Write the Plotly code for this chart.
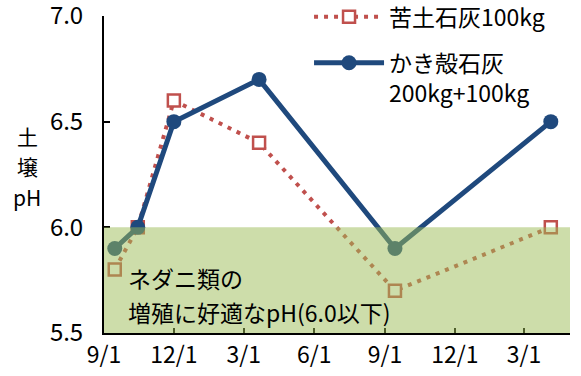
import plotly.graph_objects as go

# ---- data ----
dates = ["2019-09-15", "2019-10-15", "2019-12-01", "2020-03-21", "2020-09-14", "2021-04-05"]
kudo_ph = [5.8, 6.0, 6.6, 6.4, 5.7, 6.0]          # 苦土石灰100kg
kaki_ph = [5.9, 6.0, 6.5, 6.7, 5.9, 6.5]          # かき殻石灰200kg+100kg
tick_dates = ["2019-09-01", "2019-12-01", "2020-03-01", "2020-06-01",
              "2020-09-01", "2020-12-01", "2021-03-01"]
tick_labels = ["9/1", "12/1", "3/1", "6/1", "9/1", "12/1", "3/1"]
series_names = ["苦土石灰100kg", "かき殻石灰<br>200kg+100kg"]
ylabel_parts = ["土", "壌", "pH"]
band_low, band_high = 5.5, 6.0
band_lines = ["ネダニ類の", "増殖に好適なpH(6.0以下)"]

FONT = "Noto Sans CJK JP"
RED = "#c0504d"
BLUE = "#1f497d"

fig = go.Figure()
fig.add_trace(go.Scatter(
    x=dates, y=kudo_ph, name=series_names[0], mode="lines+markers",
    line=dict(color=RED, width=4, dash="4px,6px"),
    marker=dict(symbol="square", size=12, color="white",
                line=dict(color=RED, width=2.5)),
    legendgroup="a",
))
fig.add_trace(go.Scatter(
    x=dates, y=kaki_ph, name=series_names[1], mode="lines+markers",
    line=dict(color=BLUE, width=5),
    marker=dict(symbol="circle", size=15, color=BLUE),
    legendgroup="b",
))

# translucent band drawn above the lines
fig.add_shape(type="rect", xref="paper", yref="y", x0=0, x1=1,
              y0=band_low, y1=band_high, line=dict(width=0),
              fillcolor="rgba(155,187,85,0.5)", layer="above")

# band caption, two lines
for line_text, ypos in zip(band_lines, [5.761, 5.6]):
    fig.add_annotation(text=line_text, xref="paper", yref="y", x=0.048, y=ypos,
                       xanchor="left", yanchor="middle", align="left",
                       showarrow=False,
                       font=dict(family=FONT, size=23, color="black"))

# vertical stacked y-axis label
for part, ypos in zip(ylabel_parts, [0.621, 0.527, 0.43]):
    fig.add_annotation(text=part, xref="paper", yref="paper",
                       x=-0.165, y=ypos, xanchor="center", yanchor="middle",
                       showarrow=False,
                       font=dict(family=FONT, size=21, color="black"))

fig.update_layout(
    width=581, height=376,
    margin=dict(l=104, r=11, t=16, b=43, autoexpand=False),
    paper_bgcolor="white", plot_bgcolor="white",
    font=dict(family=FONT, size=20, color="black"),
    showlegend=True,
    legend=dict(x=0.44, y=1.065, xanchor="left", yanchor="top",
                bgcolor="rgba(0,0,0,0)", font=dict(family=FONT, size=23),
                itemwidth=70, valign="top", tracegroupgap=13,
                traceorder="grouped"),
    xaxis=dict(type="date", range=["2019-09-01", "2021-04-30"],
               tickvals=tick_dates, ticktext=tick_labels,
               ticks="inside", ticklen=5, tickwidth=1.5, tickcolor="black",
               showline=True, linecolor="black", linewidth=2,
               showgrid=False, zeroline=False, ticklabelstandoff=0,
               ticklabeloverflow="allow",
               tickfont=dict(family=FONT, size=23)),
    yaxis=dict(range=[5.5, 7.0], dtick=0.5, tickformat=".1f",
               ticks="inside", ticklen=6, tickwidth=1.5, tickcolor="black",
               showline=True, linecolor="black", linewidth=2,
               showgrid=False, zeroline=False, ticklabelstandoff=14,
               ticklabeloverflow="allow",
               tickfont=dict(family=FONT, size=24)),
)

fig.write_html("out.html")
